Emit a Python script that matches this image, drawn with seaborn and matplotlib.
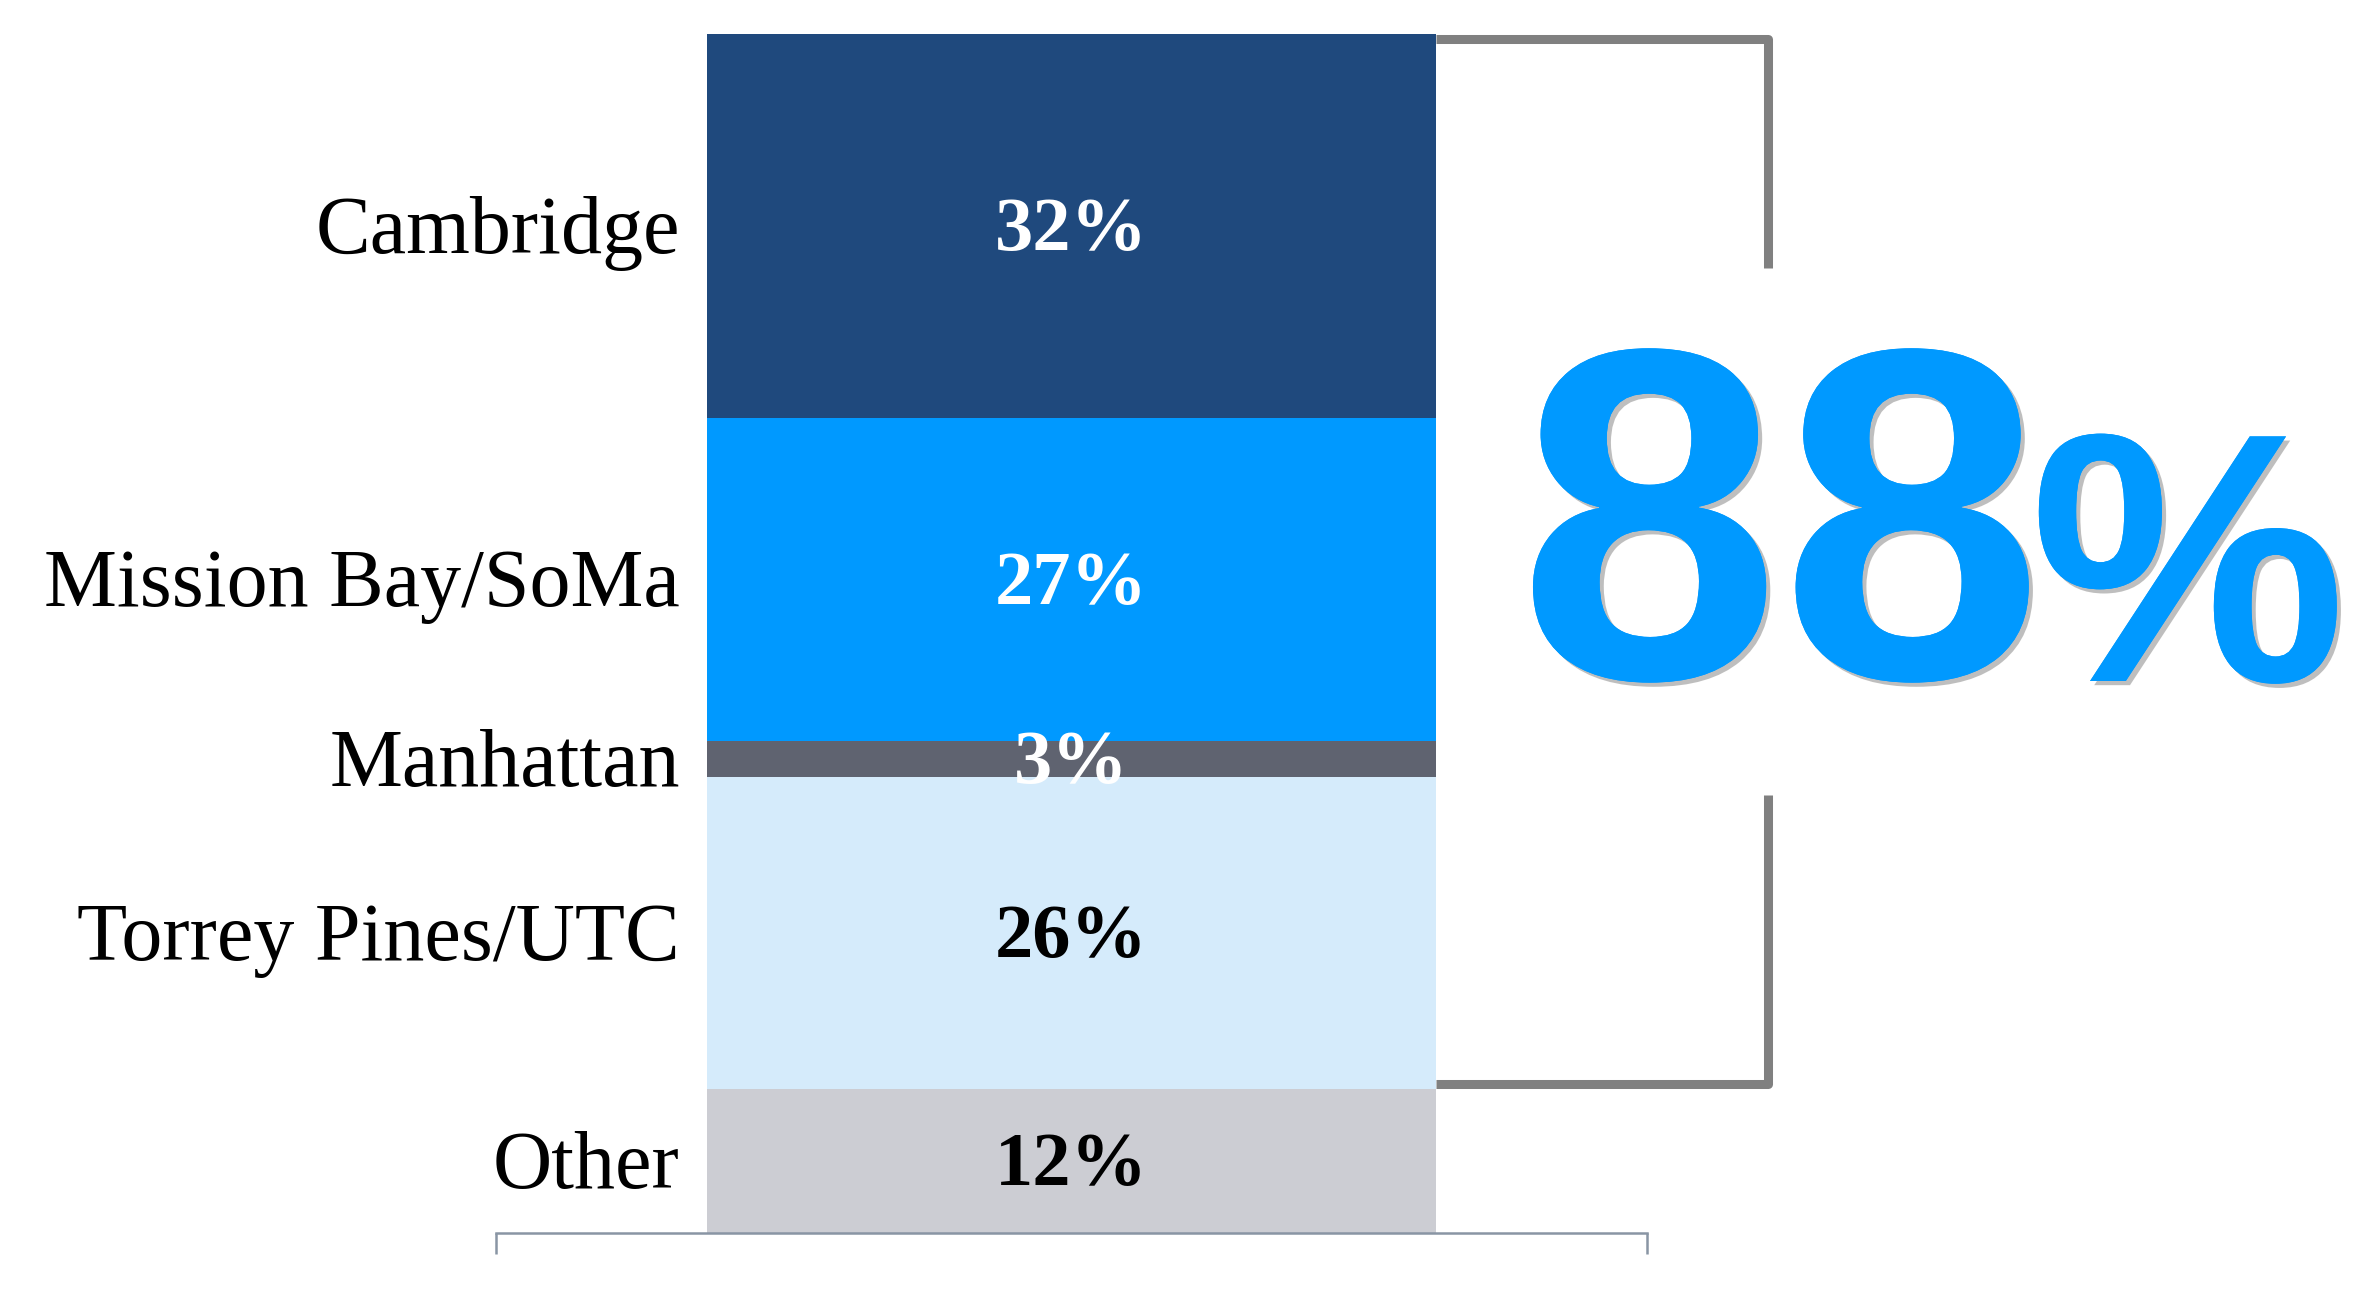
import matplotlib
matplotlib.use("Agg")
import matplotlib.pyplot as plt
import matplotlib.patheffects as pe
import seaborn as sns

# =====================================================
# Data
# =====================================================
regions = ["Cambridge", "Mission Bay/SoMa", "Manhattan", "Torrey Pines/UTC", "Other"]
shares = [32, 27, 3, 26, 12]
value_labels = ["32%", "27%", "3%", "26%", "12%"]
headline = "88"          # share of the four named clusters
headline_unit = "%"
n_bracketed = 4          # segments covered by the bracket

# =====================================================
# Style
# =====================================================
seg_colors = ["#1F497D", "#0099FF", "#5F6370", "#D5EBFB", "#CCCDD3"]
text_colors = ["white", "white", "white", "black", "black"]
BAR_W = 0.6325
W, H = 2368, 1304

sns.set_theme(style="white")
plt.rcParams["font.family"] = ["Liberation Serif", "DejaVu Serif"]

fig = plt.figure(figsize=(W / 100, H / 100), dpi=100)
ax = fig.add_axes([496 / W, 1 - 1233 / H, (1647 - 496) / W, (1233 - 34) / H])

# stacked single bar, one seaborn call per segment
base = 0
bottoms = []
for region, val, col in zip(regions, shares, seg_colors):
    sns.barplot(x=[""], y=[val], bottom=base, color=col, width=BAR_W,
                saturation=1, errorbar=None, linewidth=0, ax=ax)
    bottoms.append(base)
    base += val

ax.set_xlim(-0.5, 0.5)
ax.set_ylim(100, 0)

# segment labels and values
for region, val, b, lab, tc in zip(regions, shares, bottoms, value_labels, text_colors):
    mid = b + val / 2
    ax.annotate(region, xy=(-BAR_W / 2, mid), xytext=(-20, -5),
                textcoords="offset points", ha="right", va="center",
                fontsize=59, color="black", annotation_clip=False)
    ax.annotate(lab, xy=(0, mid), xytext=(0, -4), textcoords="offset points",
                ha="center", va="center", fontsize=55,
                fontweight="bold", color=tc)

# axis styling
for side in ["top", "right", "left"]:
    ax.spines[side].set_visible(False)
ax.spines["bottom"].set_color("#8995A4")
ax.spines["bottom"].set_linewidth(1.8)
ax.set_xticks([-0.5, 0.5])
ax.set_xticklabels(["", ""])
ax.set_yticks([])
ax.tick_params(axis="x", direction="out", length=15, width=1.8,
               color="#8995A4", bottom=True)
ax.set_xlabel("")
ax.set_ylabel("")

# bracket around the first four segments
covered = sum(shares[:n_bracketed])
inset = 0.4
bx = 0.6047
top_y, bot_y = inset, covered - inset
line_kw = dict(color="#808080", lw=6.5, clip_on=False,
               solid_joinstyle="round", solid_capstyle="butt")
ax.plot([BAR_W / 2, bx, bx], [top_y, top_y, 19.5], **line_kw)
ax.plot([bx, bx, BAR_W / 2], [63.5, bot_y, bot_y], **line_kw)

# big headline number with drop shadow
shadow = [pe.withSimplePatchShadow(offset=(3, -3), shadow_rgbFace="#7f7f7f", alpha=0.5),
          pe.Normal()]
fig.text(1518 / W, 1 - 678 / H, headline, fontsize=340, fontweight="bold",
         color="#0099FF", ha="left", va="baseline",
         family=["Liberation Sans", "DejaVu Sans"], path_effects=shadow)
fig.text(2030 / W, 1 - 681 / H, headline_unit, fontsize=256, fontweight="bold",
         color="#0099FF", ha="left", va="baseline",
         family=["Liberation Sans", "DejaVu Sans"], path_effects=shadow)

fig.savefig("out.png", dpi=100, facecolor="white")
